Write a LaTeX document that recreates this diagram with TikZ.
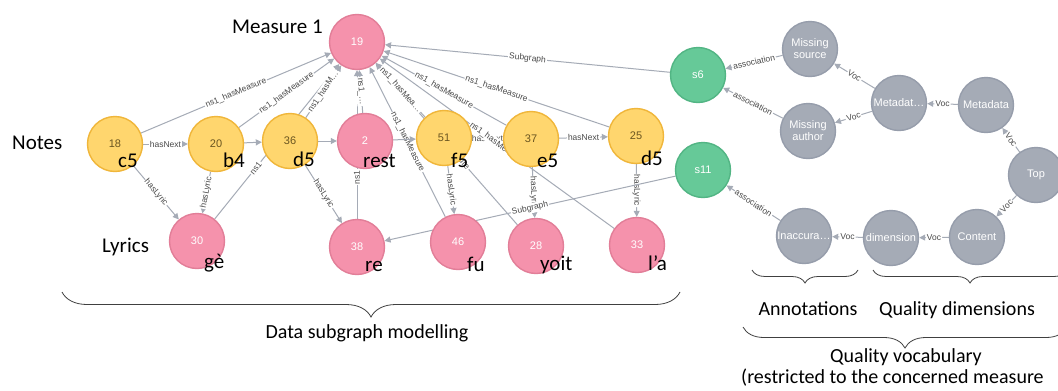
\documentclass[tikz,border=0pt]{standalone}
\usepackage{fontspec}
\setmainfont{Carlito}
\newfontfamily\helv{Liberation Sans}
\usetikzlibrary{arrows.meta,decorations.pathreplacing}
\definecolor{edgec}{HTML}{A5ABB6}
\definecolor{elabc}{HTML}{4A4A4A}
\definecolor{yfill}{HTML}{FFD66E}
\definecolor{ydraw}{HTML}{F0B63A}
\definecolor{ytext}{HTML}{6A5520}
\definecolor{pfill}{HTML}{F592AC}
\definecolor{pdraw}{HTML}{E27E98}
\definecolor{gfill}{HTML}{66C998}
\definecolor{gdraw}{HTML}{52B584}
\definecolor{qfill}{HTML}{A5ABB6}
\definecolor{qdraw}{HTML}{969DAB}
\pgfdeclarelayer{bg}
\pgfdeclarelayer{edges}
\pgfsetlayers{bg,edges,main}
\tikzset{
  gnode/.style={circle, minimum size=55pt, inner sep=0pt, line width=1.4pt, font=\helv\fontsize{11}{12}\selectfont, align=center},
  notenode/.style={gnode, fill=yfill, draw=ydraw, text=ytext},
  pinknode/.style={gnode, fill=pfill, draw=pdraw, text=white},
  greennode/.style={gnode, fill=gfill, draw=gdraw, text=white},
  greynode/.style={gnode, fill=qfill, draw=qdraw, text=white},
  rel/.style={draw=edgec, line width=1pt, -{Triangle[length=6pt,width=6pt]}},
  rlab/.style={fill=white, inner sep=1pt, sloped, text=elabc, font=\helv\fontsize{8.5}{9}\selectfont},
  big/.style={font=\fontsize{21}{24}\selectfont, inner sep=0pt, anchor=base west},
  captext/.style={font=\fontsize{20}{23}\selectfont, inner sep=0pt, anchor=base},
  brc/.style={draw=black!75, line width=0.8pt, decorate, decoration={brace, mirror, amplitude=#1}},
}
\begin{document}
\begin{tikzpicture}[x=1pt,y=-1pt]
\useasboundingbox (0,0) rectangle (1058,391);
\begin{pgfonlayer}{bg}
\fill[white] (0,0) rectangle (1058,391);
\end{pgfonlayer}
% nodes
\node[pinknode] (n19) at (357,42) {19};
\node[notenode] (n18) at (115,144) {18};
\node[notenode] (n20) at (216,144) {20};
\node[notenode] (n36) at (290,141) {36};
\node[pinknode] (n2) at (365,141) {2};
\node[notenode] (n51) at (444,138) {51};
\node[notenode] (n37) at (531,139) {37};
\node[notenode] (n25) at (636,136) {25};
\node[pinknode] (n30) at (197,241) {30};
\node[pinknode] (n38) at (357,247) {38};
\node[pinknode] (n46) at (458,242) {46};
\node[pinknode] (n28) at (536,246) {28};
\node[pinknode] (n33) at (637,245) {33};
\node[greennode] (s6) at (698,75) {s6};
\node[greennode] (s11) at (703,170) {s11};
\node[greynode] (ms) at (810,49) {Missing\\source};
\node[greynode] (ma) at (808,131) {Missing\\author};
\node[greynode] (mdt) at (899,103) {Metadat…};
\node[greynode] (md) at (986,105) {Metadata};
\node[greynode] (top) at (1036,175) {Top};
\node[greynode] (cont) at (977,237) {Content};
\node[greynode] (dim) at (891,238) {dimension};
\node[greynode] (inac) at (804,236) {Inaccura…};
% edges
\begin{pgfonlayer}{edges}
\draw[rel] (n30) -- node[rlab, pos=0.33]{ns1} (n19);
\draw[rel] (n38) -- node[rlab, pos=0.28]{ns1} (n19);
\draw[rel] (n28) -- node[rlab]{ns1\_hasMeasure} (n19);
\draw[rel] (n46) -- node[rlab]{ns1\_hasMeasure} (n19);
\draw[rel] (n18) -- node[rlab]{ns1\_hasMeasure} (n19);
\draw[rel] (n20) -- node[rlab]{ns1\_hasMeasure} (n19);
\draw[rel] (n36) -- node[rlab]{ns1\_hasM…} (n19);
\draw[rel] (n2) -- node[rlab]{ns1\_…} (n19);
\draw[rel] (n51) -- node[rlab]{ns1\_hasMea…} (n19);
\draw[rel] (n37) -- node[rlab]{ns1\_hasMeasure} (n19);
\draw[rel] (n25) -- node[rlab]{ns1\_hasMeasure} (n19);
\draw[rel] (n51) -- node[rlab]{hasNext} (n37);
\draw[rel] (n33) -- node[rlab]{ns1\_hasMeasure} (n19);
\draw[rel] (n18) -- node[rlab]{hasNext} (n20);
\draw[rel] (n20) -- (n36);
\draw[rel] (n36) -- (n2);
\draw[rel] (n2) -- (n51);
\draw[rel] (n37) -- node[rlab]{hasNext} (n25);
\draw[rel] (n18) -- node[rlab]{hasLyric} (n30);
\draw[rel] (n20) -- node[rlab]{hasLyric} (n30);
\draw[rel] (n36) -- node[rlab]{hasLyric} (n38);
\draw[rel] (n51) -- node[rlab]{hasLyric} (n46);
\draw[rel] (n37) -- node[rlab]{hasLyric} (n28);
\draw[rel] (n25) -- node[rlab]{hasLyric} (n33);
\draw[rel] (s6) -- node[rlab]{Subgraph} (n19);
\draw[rel] (s11) -- node[rlab]{Subgraph} (n38);
\draw[rel] (ms) -- node[rlab]{association} (s6);
\draw[rel] (ma) -- node[rlab]{association} (s6);
\draw[rel] (mdt) -- node[rlab]{Voc} (ms);
\draw[rel] (mdt) -- node[rlab]{Voc} (ma);
\draw[rel] (md) -- node[rlab]{Voc} (mdt);
\draw[rel] (top) -- node[rlab]{Voc} (md);
\draw[rel] (top) -- node[rlab]{Voc} (cont);
\draw[rel] (cont) -- node[rlab]{Voc} (dim);
\draw[rel] (dim) -- node[rlab]{Voc} (inac);
\draw[rel] (inac) -- node[rlab]{association} (s11);
\end{pgfonlayer}
% big labels
\node[big] (lm) at (232,33) {Measure 1};
\node[big] (ln) at (12,149) {Notes};
\node[big] (ll) at (102,252) {Lyrics};
\node[big] (l18) at (118,167) {c5};
\node[big] (l20) at (223,167) {b4};
\node[big] (l36) at (293,166) {d5};
\node[big] (l2) at (363,167) {rest};
\node[big] (l51) at (451,167) {f5};
\node[big] (l37) at (537,167) {e5};
\node[big] (l25) at (641,165) {d5};
\node[big] (l30) at (204,268) {gè};
\node[big] (l38) at (365,271) {re};
\node[big] (l46) at (467,271) {fu};
\node[big] (l28) at (540,270) {yoit};
\node[big] (l33) at (648,270) {l’a};
% braces and captions
\draw[brc=25pt] (62,292) -- (680,292);
\node[captext] (cdata) at (367,338) {Data subgraph modelling};
\draw[brc=13pt] (752,270) -- (858,270);
\draw[brc=13pt] (873,270) -- (1067,270);
\node[captext] (cann) at (808,315) {Annotations};
\node[captext] (cqd) at (957,315) {Quality dimensions};
\draw[brc=21pt] (743,327) -- (1067,327);
\node[captext] (cqv) at (906,362) {Quality vocabulary};
\node[captext, anchor=base west] (cres) at (741,383) {(restricted to the concerned measure};
\end{tikzpicture}
\end{document}
